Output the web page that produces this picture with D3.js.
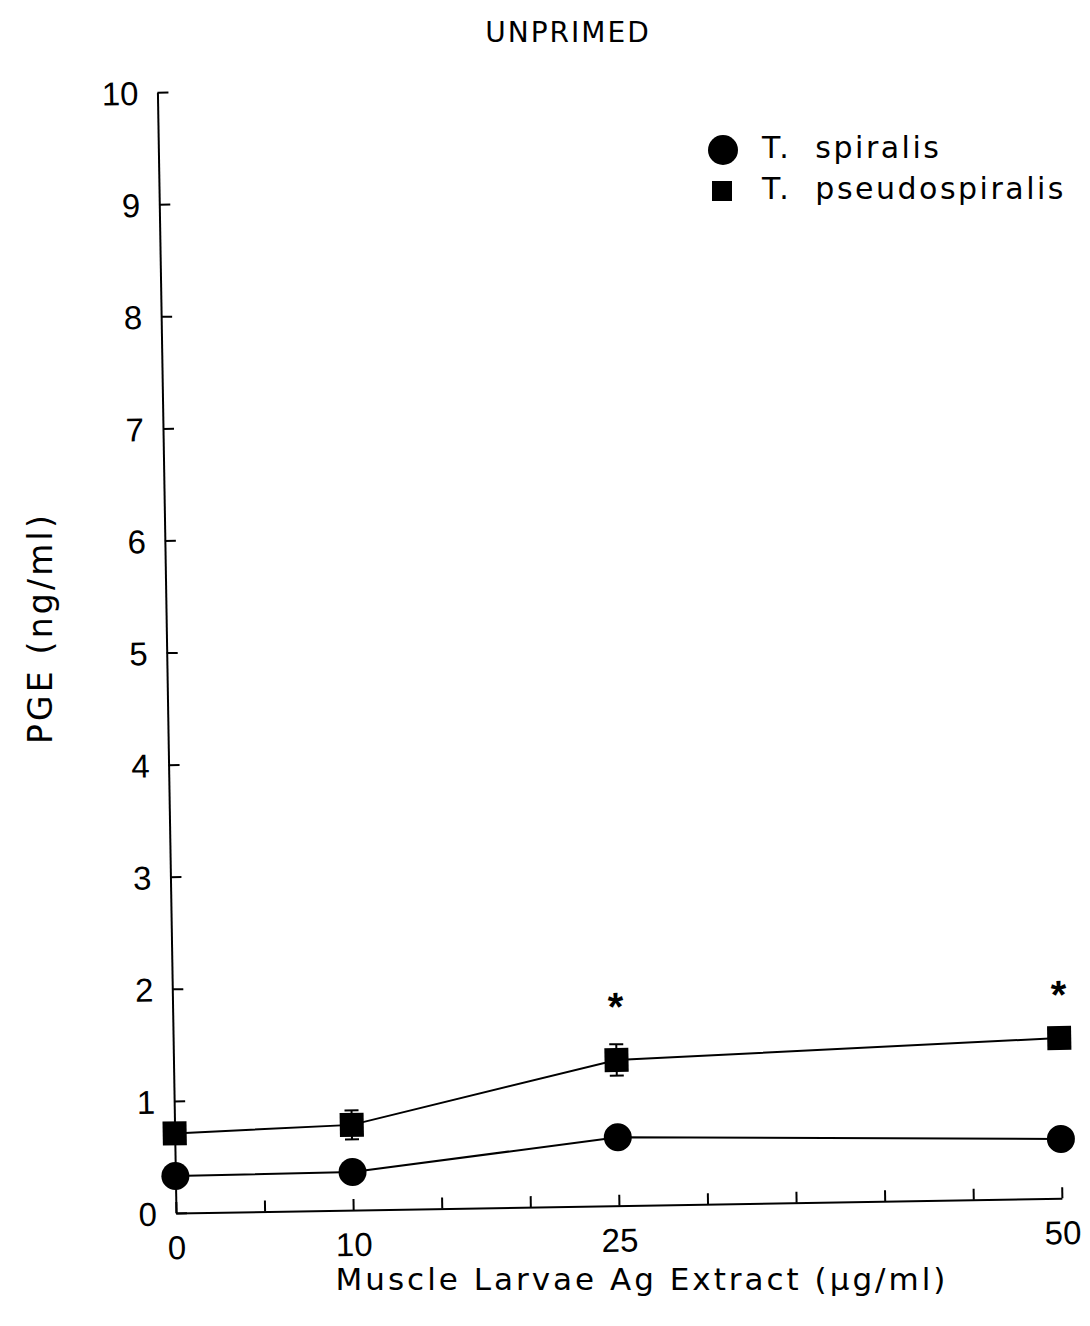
<!DOCTYPE html>
<html><head><meta charset="utf-8">
<script src="https://cdn.jsdelivr.net/npm/d3@7"></script>
<style>body{margin:0;background:#fff}</style>
</head><body><svg id="chart" width="1090" height="1326"></svg>
<script>
// ---- data ----
const doses = [0, 10, 25, 50];
const spiralisMean = [0.33, 0.34, 0.61, 0.53];
const spiralisErr  = [0.03, 0.03, 0.03, 0.03];
const pseudoMean   = [0.71, 0.76, 1.30, 1.43];
const pseudoErr    = [0.04, 0.13, 0.14, 0.05];
const significant  = [false, false, true, true];
const xTicks = [0, 5, 10, 15, 20, 25, 30, 35, 40, 45, 50];
const xTickLabels = [0, 10, 25, 50];
const yTicks = [0, 1, 2, 3, 4, 5, 6, 7, 8, 9, 10];
const seriesNames = ["T.\u00a0 spiralis", "T.\u00a0 pseudospiralis"];
const chartTitle = "UNPRIMED";
const xTitle = "Muscle Larvae Ag Extract (\u03bcg/ml)";
const yTitle = "PGE (ng/ml)";

// ---- layout ----
const W = 1090, H = 1326;
const ox = 176, oy = 1213, tilt = -0.95;
const x = d3.scaleLinear().domain([0, 50]).range([0, 886]);
const y = d3.scaleLinear().domain([0, 10]).range([0, -1121]);
const wordFont = "DejaVu Sans, sans-serif";
const numFont = "Liberation Sans, Arial, sans-serif";

const svg = d3.select("#chart");
svg.append("rect").attr("width", W).attr("height", H).attr("fill", "#fff");

const g = svg.append("g").attr("transform", `translate(${ox},${oy}) rotate(${tilt})`);

// x axis
const xAxis = g.append("g")
  .call(d3.axisBottom(x).tickValues(xTicks).tickSizeInner(-11).tickSizeOuter(0)
    .tickFormat(d => xTickLabels.includes(d) ? d : ""));
xAxis.select(".domain").attr("stroke", "#000").attr("stroke-width", 2);
xAxis.selectAll(".tick line").attr("stroke", "#000").attr("stroke-width", 2);
xAxis.selectAll(".tick text").attr("y", 46).attr("dy", null)
  .attr("font-family", numFont).attr("font-size", 33).attr("fill", "#000");

// y axis
const yAxis = g.append("g")
  .call(d3.axisLeft(y).tickValues(yTicks).tickSizeInner(-11).tickSizeOuter(0).tickPadding(19));
yAxis.select(".domain").attr("stroke", "#000").attr("stroke-width", 2);
yAxis.selectAll(".tick line").attr("stroke", "#000").attr("stroke-width", 2);
yAxis.selectAll(".tick text").attr("dy", "0.36em")
  .attr("font-family", numFont).attr("font-size", 33).attr("fill", "#000");

// series
const series = [
  { name: seriesNames[0], mean: spiralisMean, err: spiralisErr, shape: "circle" },
  { name: seriesNames[1], mean: pseudoMean, err: pseudoErr, shape: "square" }
];
const line = d3.line().x((d, i) => x(doses[i])).y(d => y(d));

series.forEach(s => {
  const sg = g.append("g");
  sg.append("path").attr("d", line(s.mean)).attr("fill", "none")
    .attr("stroke", "#000").attr("stroke-width", 2);
  const pts = s.mean.map((m, i) => ({ dose: doses[i], m, e: s.err[i] }));
  const eb = sg.selectAll(".eb").data(pts).enter().append("g");
  eb.append("line").attr("x1", d => x(d.dose)).attr("x2", d => x(d.dose))
    .attr("y1", d => y(d.m - d.e)).attr("y2", d => y(d.m + d.e))
    .attr("stroke", "#000").attr("stroke-width", 2);
  [1, -1].forEach(sign => {
    eb.append("line").attr("x1", d => x(d.dose) - 7).attr("x2", d => x(d.dose) + 7)
      .attr("y1", d => y(d.m + sign * d.e)).attr("y2", d => y(d.m + sign * d.e))
      .attr("stroke", "#000").attr("stroke-width", 2);
  });
  if (s.shape === "circle") {
    sg.selectAll(".pt").data(pts).enter().append("circle")
      .attr("cx", d => x(d.dose)).attr("cy", d => y(d.m)).attr("r", 14).attr("fill", "#000");
  } else {
    sg.selectAll(".pt").data(pts).enter().append("rect")
      .attr("x", d => x(d.dose) - 12).attr("y", d => y(d.m) - 12)
      .attr("width", 24).attr("height", 24).attr("fill", "#000");
  }
});

// significance asterisks
g.selectAll(".sig").data(doses.map((d, i) => ({ dose: d, i })).filter(d => significant[d.i]))
  .enter().append("text")
  .attr("x", d => x(d.dose)).attr("y", d => y(pseudoMean[d.i] + pseudoErr[d.i]) - 46 + 22)
  .attr("text-anchor", "middle").attr("font-family", numFont).attr("font-weight", "bold")
  .attr("font-size", 40).text("*");

// titles
svg.append("text").attr("x", 568).attr("y", 42).attr("text-anchor", "middle")
  .attr("font-family", wordFont).attr("font-size", 28).attr("letter-spacing", 2)
  .text(chartTitle);
svg.append("text").attr("x", 642).attr("y", 1290).attr("text-anchor", "middle")
  .attr("font-family", wordFont).attr("font-size", 31).attr("letter-spacing", 3)
  .text(xTitle);
svg.append("text").attr("transform", "translate(52,628) rotate(-90)").attr("text-anchor", "middle")
  .attr("font-family", wordFont).attr("font-size", 33).attr("letter-spacing", 3.2)
  .text(yTitle);

// legend
const legend = svg.append("g");
const rows = [{ name: seriesNames[0], shape: "circle", cy: 150 }, { name: seriesNames[1], shape: "square", cy: 191 }];
rows.forEach(r => {
  if (r.shape === "circle") legend.append("circle").attr("cx", 723).attr("cy", r.cy).attr("r", 15).attr("fill", "#000");
  else legend.append("rect").attr("x", 712).attr("y", r.cy - 10).attr("width", 20).attr("height", 20).attr("fill", "#000");
  legend.append("text").attr("x", 762).attr("y", r.cy + 8).attr("font-family", wordFont)
    .attr("font-size", 30).attr("letter-spacing", 2.5).text(r.name);
});
</script></body></html>
